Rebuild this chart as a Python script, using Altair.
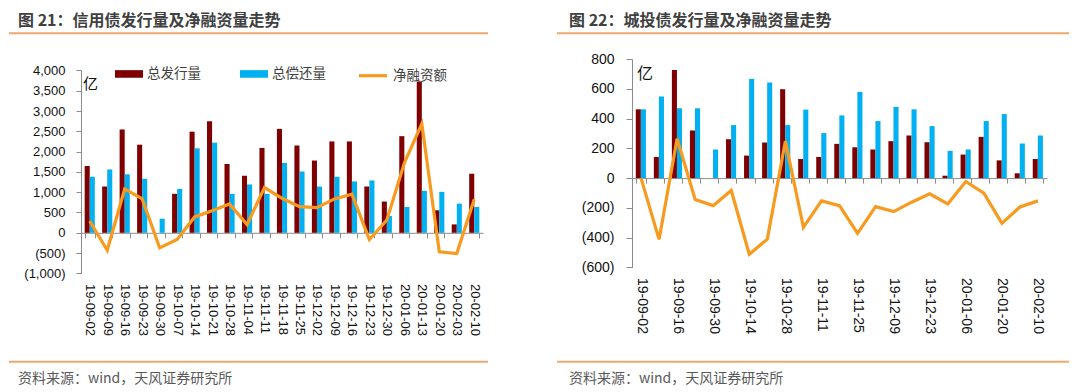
import json
import altair as alt
import pandas as pd

# ---------------- data ----------------
dates = ["19-09-02", "19-09-09", "19-09-16", "19-09-23", "19-09-30", "19-10-07",
         "19-10-14", "19-10-21", "19-10-28", "19-11-04", "19-11-11", "19-11-18",
         "19-11-25", "19-12-02", "19-12-09", "19-12-16", "19-12-23", "19-12-30",
         "20-01-06", "20-01-13", "20-01-20", "20-02-03", "20-02-10"]

series_names = ["总发行量", "总偿还量"]
line_name = "净融资额"

# 图21 信用债
credit_issue = [1645, 1140, 2545, 2170, 0, 960, 2490, 2750, 1695, 1405, 2090, 2560,
                2150, 1780, 2250, 2250, 1140, 770, 2380, 3727, 554, 207, 1455]
credit_repay = [1380, 1560, 1440, 1330, 347, 1080, 2080, 2220, 960, 1190, 960, 1720,
                1510, 1140, 1380, 1265, 1290, 415, 636, 1033, 1008, 719, 636]
credit_net = [290, -430, 1080, 835, -370, -165, 390, 545, 710, 205, 1115, 850,
              645, 620, 835, 950, -165, 314, 1720, 2686, -470, -512, 826]

# 图22 城投债
lgfv_issue = [462, 142, 726, 320, 0, 261, 151, 239, 597, 128, 142, 230,
              207, 192, 248, 286, 241, 16, 158, 277, 119, 32, 128]
lgfv_repay = [462, 548, 469, 469, 192, 356, 667, 642, 356, 460, 302, 421,
              579, 383, 478, 462, 349, 183, 192, 383, 430, 232, 286]
lgfv_net = [0, -412, 264, -144, -185, -83, -512, -410, 248, -331, -153, -185,
            -372, -192, -225, -162, -106, -174, -23, -101, -304, -194, -153]

left_tick_labels = dates
right_tick_labels = dates[::2]
left_y_ticks = [-1000, -500, 0, 500, 1000, 1500, 2000, 2500, 3000, 3500, 4000]
right_y_ticks = [-600, -400, -200, 0, 200, 400, 600, 800]

title_left = "图 21：信用债发行量及净融资量走势"
title_right = "图 22：城投债发行量及净融资量走势"
source_text = "资料来源：wind，天风证券研究所"
unit_text = "亿"

# ---------------- style ----------------
RED = "#7F0000"
BLUE = "#00B0F0"
ORANGE = "#F79A1E"
SEP = "#EDA86E"
AXIS = "#8C8C8C"
CJK = "Noto Sans CJK SC"
LAT = "Liberation Sans"

NEG_EXPR = ("datum.value < 0 ? '(' + format(-datum.value, ',') + ')' "
            ": format(datum.value, ',')")


def one_row():
    return alt.Data(values=[{"k": 0}])


def panel(issue, repay, net, labels, yticks, title, W, H, top, plotH,
          xfs, yfs, ytick, ypad, leg, deco):
    ymin, ymax = yticks[0], yticks[-1]
    df_bars = pd.DataFrame({
        "date": dates * 2,
        "series": [series_names[0]] * len(dates) + [series_names[1]] * len(dates),
        "value": issue + repay,
    })
    df_line = pd.DataFrame({"date": dates, "series": line_name, "value": net})

    zero_dist = H - (top + plotH * (ymax - 0) / (ymax - ymin))
    label_expr = ("indexof(" + json.dumps(labels, ensure_ascii=False) +
                  ", datum.value) >= 0 ? datum.label : ''")

    x_axis = alt.Axis(title=None, orient="bottom", offset=-zero_dist,
                      domainColor=AXIS, tickColor=AXIS, tickSize=5,
                      tickBand="extent", labelAngle=90, labelOverlap=False,
                      labelPadding=zero_dist + 10 - 5,
                      labelFont=LAT, labelFontSize=xfs, labelColor="#111111",
                      labelExpr=label_expr)
    y_axis = alt.Axis(title=None, values=yticks, grid=False, domainColor=AXIS,
                      tickColor=AXIS, tickSize=ytick, labelPadding=ypad,
                      labelOverlap=False, tickCount=len(yticks),
                      labelFont=LAT, labelFontSize=yfs, labelColor="#111111",
                      labelExpr=NEG_EXPR)
    x_scale = alt.Scale(paddingInner=0.42, paddingOuter=0.21)
    y_scale = alt.Scale(domain=[ymin, ymax], nice=False, zero=False,
                        range=[top + plotH, top])

    bars = alt.Chart(df_bars).mark_bar(strokeWidth=0).encode(
        x=alt.X("date:N", sort=dates, scale=x_scale, axis=x_axis),
        xOffset=alt.XOffset("series:N", sort=series_names,
                            scale=alt.Scale(paddingInner=0, paddingOuter=0)),
        y=alt.Y("value:Q", scale=y_scale, axis=y_axis),
        fill=alt.Fill("series:N",
                      scale=alt.Scale(domain=series_names, range=[RED, BLUE]),
                      legend=alt.Legend(title=None, orient="none",
                                        direction="horizontal",
                                        legendX=leg["bx"], legendY=leg["by"],
                                        symbolType=leg["path"],
                                        symbolSize=400, symbolStrokeWidth=0,
                                        labelOffset=leg["boff"],
                                        columnPadding=leg["bcol"],
                                        labelFont=CJK,
                                        labelFontSize=leg["fs"],
                                        labelColor="#404040", padding=0)),
    )

    line = alt.Chart(df_line).mark_line(strokeWidth=3.2).encode(
        x=alt.X("date:N", sort=dates, scale=x_scale, axis=x_axis),
        y=alt.Y("value:Q", scale=y_scale, axis=y_axis),
        stroke=alt.Stroke("series:N",
                          scale=alt.Scale(domain=[line_name], range=[ORANGE]),
                          legend=alt.Legend(title=None, orient="none",
                                            legendX=leg["lx"], legendY=leg["ly"],
                                            symbolType="stroke",
                                            symbolSize=leg["lsize"],
                                            symbolStrokeWidth=3.2,
                                            labelOffset=leg["loff"],
                                            labelFont=CJK,
                                            labelFontSize=leg["fs"],
                                            labelColor="#404040", padding=0)),
    )

    unit = alt.Chart(one_row()).mark_text(
        align="left", baseline="middle", font=CJK, fontSize=deco["ufs"],
        color="#111111").encode(x=alt.value(deco["ux"]), y=alt.value(deco["uy"]),
                                text=alt.value(unit_text))

    ttl = alt.Chart(one_row()).mark_text(
        align="left", baseline="middle", font=CJK, fontSize=16,
        fontWeight="bold", color="#404040").encode(
        x=alt.value(deco["tx"]), y=alt.value(deco["ty"]), text=alt.value(title))

    # invisible anchor fixing the top edge of each panel (page y = 8)
    anchor = alt.Chart(one_row()).mark_rule(strokeOpacity=0, strokeWidth=0.1).encode(
        x=alt.value(deco["rx1"]), x2=alt.value(deco["rx1"] + 10),
        y=alt.value(deco["top"]))

    top_rule = alt.Chart(one_row()).mark_rule(color=SEP, strokeWidth=2).encode(
        x=alt.value(deco["rx1"]), x2=alt.value(deco["rx2"]),
        y=alt.value(deco["ry1"]))
    bot_rule = alt.Chart(one_row()).mark_rule(color=SEP, strokeWidth=2).encode(
        x=alt.value(deco["rx1"]), x2=alt.value(deco["rx2"]),
        y=alt.value(deco["ry2"]))

    src = alt.Chart(one_row()).mark_text(
        align="left", baseline="middle", font=CJK, fontSize=14,
        color="#595959").encode(x=alt.value(deco["sx"]), y=alt.value(deco["sy"]),
                                text=alt.value(source_text))

    return alt.layer(bars, line, unit, anchor, ttl, top_rule, bot_rule, src).properties(
        width=W, height=H)


# both panels share the same group origin (y = 58.3 on the page)
left = panel(credit_issue, credit_repay, credit_net, left_tick_labels, left_y_ticks,
             title_left, 402, 214.4, 11.4, 203, 13, 13, 5, 11,
             leg=dict(bx=38, by=4.7, path="M-1.4,-0.38H1.4V0.38H-1.4Z", boff=8,
                      bcol=39, fs=13.5, lx=276, ly=0.7, lsize=784, loff=4),
             deco=dict(ux=2, uy=24.7, ufs=15, tx=-63, ty=-37.8, rx1=-72, rx2=407,
                       ry1=-25.8, ry2=302.7, sx=-63, sy=319.7, top=-50.3))

right = panel(lgfv_issue, lgfv_repay, lgfv_net, right_tick_labels, right_y_ticks,
              title_right, 415, 208.4, 0, 208.4, 14, 14, 6, 12,
              leg=dict(bx=39, by=-5.3, path="M-1.5,-0.33H1.5V0.33H-1.5Z", boff=9,
                       bcol=33, fs=15, lx=278, ly=-11.8, lsize=1089, loff=5),
              deco=dict(ux=5, uy=15.2, ufs=16, tx=-63, ty=-37.8, rx1=-75, rx2=437,
                        ry1=-25.8, ry2=302.7, sx=-63, sy=319.7, top=-50.3))

chart = alt.hconcat(left, right, spacing=67).properties(
    padding={"left": 0, "top": 0, "right": 0, "bottom": 0}
).configure_view(stroke=None).configure_axis(labelOverlap=False)

chart.save("out.html", embed_options={"renderer": "svg", "actions": False})
